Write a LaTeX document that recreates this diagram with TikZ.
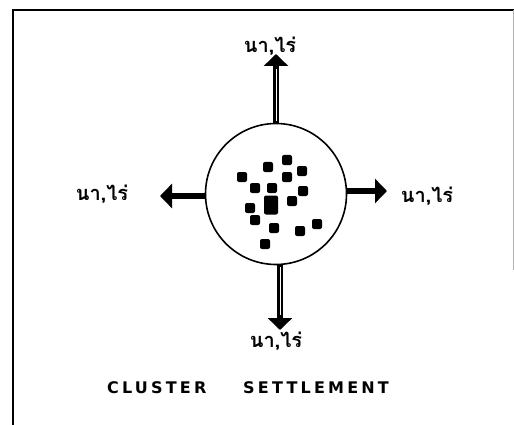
\documentclass[tikz,border=0pt]{standalone}
\usepackage{fontspec}
\newfontfamily\thaifont[Script=Thai]{Loma}
\newfontfamily\capfont[LetterSpace=20]{DejaVu Sans}
\usetikzlibrary{arrows.meta,calc}
\begin{document}
\begin{tikzpicture}[x=1pt,y=-1pt,
  lbl/.style={font=\thaifont\bfseries\fontsize{20}{20}\selectfont, inner sep=0pt},
  hut/.style={fill=black, rounded corners=2pt, minimum width=10pt, minimum height=10pt, inner sep=0pt},
  fatarrow/.style={line width=6.5pt, -{Triangle[length=12pt,width=24pt]}},
  core/.style={white, line width=0.8pt},
  title/.style={font=\capfont\bfseries\fontsize{16}{16}\selectfont, inner sep=0pt}]
\useasboundingbox (0,0) rectangle (514,425);
% frame
\draw[line width=2pt] (13,425) -- (13,10) -- (514,10);
\draw[gray!60, line width=0.8pt] (513,10) -- (513,270);
% settlement circle
\node[draw, line width=1.6pt, circle, minimum size=141pt, inner sep=0pt] (c) at (276,194) {};
% houses
\foreach \n/\x/\y in {1/287/160,2/268/167,3/302/171,4/242/177,5/287/177,6/255/188,7/272/188,
  8/303/191,9/292/201,10/250/208,11/255/220,12/274/228,13/300/231,14/317/224,15/265/244}
  \node[hut] (s\n) at (\x,\y) {};
\node[hut, minimum width=14pt, minimum height=19pt] (s0) at (271,205) {};
% arrow ends
\coordinate (tn) at (276,54);
\coordinate (ts) at (280,330);
\coordinate (tw) at (160,196);
\coordinate (te) at (387,191);
\draw[fatarrow] (tn |- c.north) -- (tn);
\draw[fatarrow] (ts |- c.south) -- (ts);
\draw[fatarrow] (tw -| c.west) -- (tw);
\draw[fatarrow] (te -| c.east) -- (te);
\draw[core] ($(tn |- c.north)+(0,-2)$) -- ($(tn)+(0,15)$);
\draw[core] ($(ts |- c.south)+(0,2)$) -- ($(ts)+(0,-15)$);
% labels
\node[lbl] (ln) at (270,46) {นา,ไร่};
\node[lbl] (ls) at (276,341) {นา,ไร่};
\node[lbl] (lw) at (102,194) {นา,ไร่};
\node[lbl] (le) at (427,196) {นา,ไร่};
% title
\node[title, anchor=west] (t1) at (107,388) {CLUSTER};
\node[title, anchor=west] (t2) at (243,388) {SETTLEMENT};
\end{tikzpicture}
\end{document}
